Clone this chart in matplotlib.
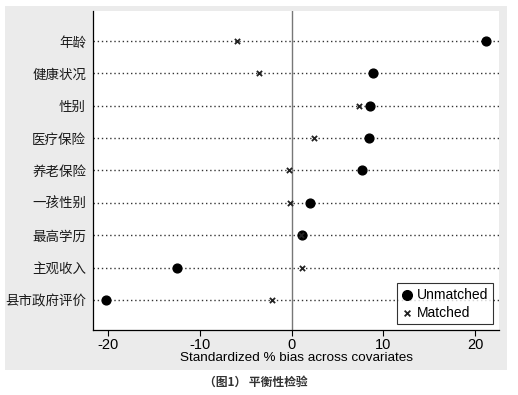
import matplotlib
matplotlib.use("Agg")
import matplotlib.pyplot as plt
from matplotlib.patches import Rectangle

plt.rcParams['font.family'] = ['Liberation Sans', 'Noto Sans CJK SC', 'DejaVu Sans']

covariates = ['年龄', '健康状况', '性别', '医疗保险', '养老保险', '一孩性别', '最高学历', '主观收入', '县市政府评价']
unmatched = [21.2, 8.9, 8.6, 8.4, 7.7, 2.0, 1.1, -12.5, -20.2]
matched = [-5.9, -3.5, 7.4, 2.4, -0.3, -0.2, 1.0, 1.1, -2.1]
xticks = [-20, -10, 0, 10, 20]

W, H = 518, 395
fig = plt.figure(figsize=(W / 100, H / 100), dpi=100)
fig.patch.set_facecolor('white')

# grey graph region behind the plot
fig.patches.append(Rectangle((5 / W, 1 - 370 / H), 502 / W, 364 / H,
                             transform=fig.transFigure, facecolor='#ebebeb',
                             edgecolor='none', zorder=-10))

ax = fig.add_axes([93 / W, 1 - 330 / H, 406 / W, 319 / H])
ax.set_facecolor('white')

ypos = list(range(len(covariates)))
for y in ypos:
    ax.axhline(y, color='#333333', linestyle=(0, (1, 2)), linewidth=1.0, zorder=1)
ax.axvline(0, color='#777777', linewidth=1.0, zorder=1)

ax.scatter(unmatched, ypos, s=40, color='black', marker='o', zorder=3, label='Unmatched')
ax.scatter(matched, ypos, s=14, color='#222222', marker='x', linewidths=1.3, zorder=3, label='Matched')

ax.set_xlim(-21.63, 22.6)
ax.set_ylim(len(covariates) - 1 + 0.92, -0.92)
ax.set_xticks(xticks)
ax.set_xticklabels([str(t) for t in xticks], fontsize=10.5)
ax.set_yticks(ypos)
ax.set_yticklabels(covariates, fontsize=9.7, family=['Noto Sans CJK SC'], color='#1a1a1a')
ax.tick_params(axis='y', length=0, pad=5)
ax.tick_params(axis='x', length=4, width=0.8, pad=2)
ax.set_xlabel('Standardized % bias across covariates', fontsize=9.7, labelpad=0)

for side in ['top', 'right']:
    ax.spines[side].set_visible(False)
for side in ['left', 'bottom']:
    ax.spines[side].set_linewidth(0.9)

leg = ax.legend(loc='lower right', fontsize=10, frameon=True, fancybox=False,
                edgecolor='black', handletextpad=0.3, borderpad=0.35,
                labelspacing=0.25, handlelength=0.8, borderaxespad=0.4,
                markerscale=1.1)
leg.get_frame().set_linewidth(0.8)

fig.text(0.493, 1 - 382 / H, '（图1） 平衡性检验', ha='center', va='center',
         fontsize=8.5, family=['Noto Sans CJK SC'], weight='bold', color='#333333')

fig.savefig('out.png', dpi=100)
